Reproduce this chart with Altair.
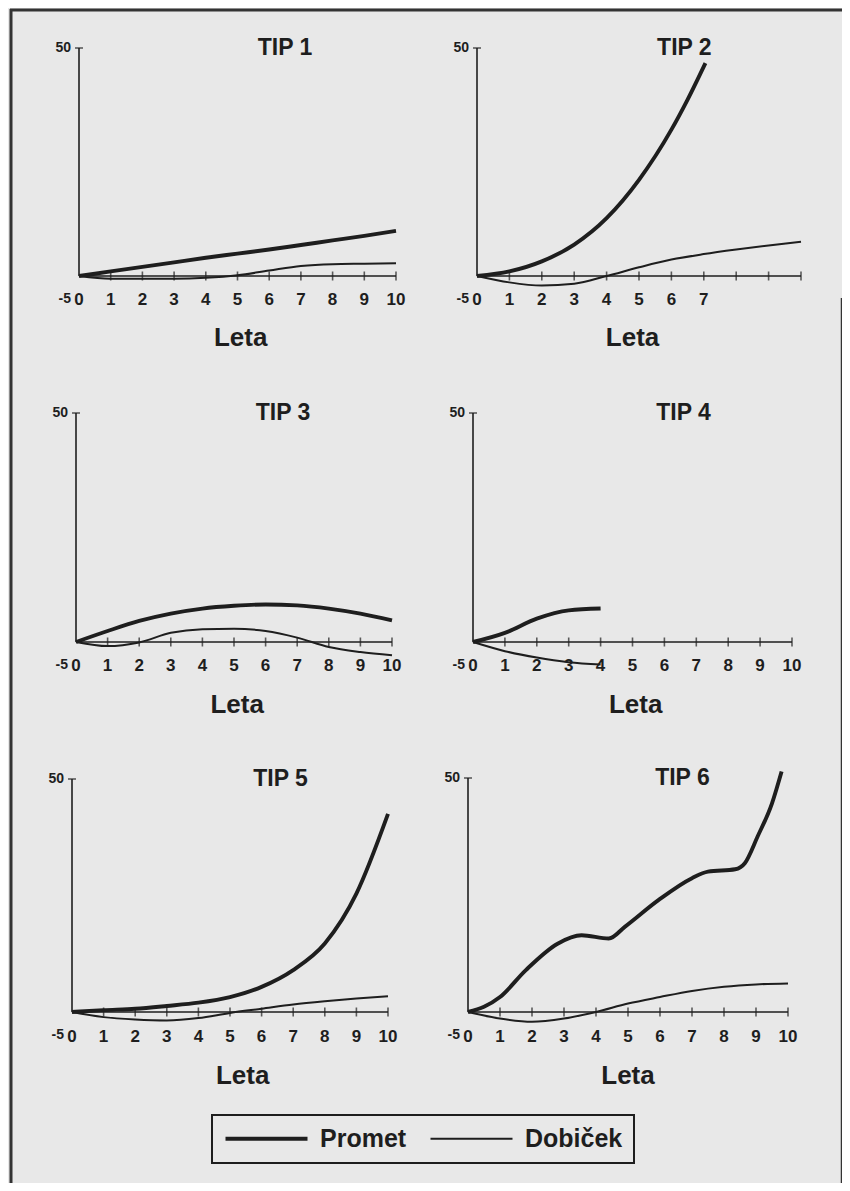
import altair as alt
import pandas as pd

# ---------------- data ----------------
YEARS = [0, 1, 2, 3, 4, 5, 6, 7, 8, 9, 10]
SERIES = ["Promet", "Dobiček"]
TITLES = ["TIP 1", "TIP 2", "TIP 3", "TIP 4", "TIP 5", "TIP 6"]
X_TITLE = "Leta"
Y_LABELS = ["50", "-5"]
Y_LABEL_VALUES = [50, -5]
TICK_YEARS = [1, 2, 3, 4, 5, 6, 7, 8, 9, 10]
XLABELS_FULL = ["0", "1", "2", "3", "4", "5", "6", "7", "8", "9", "10"]
XLABELS_TIP2 = ["0", "1", "2", "3", "4", "5", "6", "7"]

# TIP 1
PROMET_1_X = YEARS
PROMET_1 = [0, 1.0, 2.0, 3.0, 4.0, 4.9, 5.8, 6.8, 7.8, 8.8, 9.9]
DOBICEK_1_X = YEARS
DOBICEK_1 = [0, -0.6, -0.6, -0.6, -0.4, 0.15, 1.2, 2.2, 2.6, 2.7, 2.8]
# TIP 2
PROMET_2_X = [0, 1, 2, 3, 4, 5, 6, 6.5, 7.05]
PROMET_2 = [0, 1.0, 3.2, 6.9, 12.7, 21.1, 32.1, 38.7, 46.7]
DOBICEK_2_X = YEARS
DOBICEK_2 = [0, -1.4, -2.1, -1.7, 0, 1.9, 3.6, 4.8, 5.8, 6.7, 7.5]
# TIP 3
PROMET_3_X = YEARS
PROMET_3 = [0, 2.4, 4.6, 6.2, 7.3, 7.9, 8.2, 8.0, 7.3, 6.2, 4.7]
DOBICEK_3_X = YEARS
DOBICEK_3 = [0, -0.9, -0.1, 2.0, 2.8, 2.9, 2.4, 0.95, -1.1, -2.2, -2.9]
# TIP 4
PROMET_4_X = [0, 1, 2, 3, 4]
PROMET_4 = [0, 2.0, 5.1, 6.9, 7.3]
DOBICEK_4_X = [0, 1, 2, 3, 4]
DOBICEK_4 = [0, -2.0, -3.4, -4.4, -4.9]
# TIP 5
PROMET_5_X = YEARS
PROMET_5 = [0, 0.4, 0.7, 1.3, 2.0, 3.2, 5.4, 9.0, 14.7, 25.4, 42.5]
DOBICEK_5_X = YEARS
DOBICEK_5 = [0, -1.1, -1.6, -1.8, -1.3, -0.2, 0.7, 1.6, 2.3, 2.9, 3.4]
# TIP 6
PROMET_6_X = [0, 0.5, 1, 1.8, 2.8, 3.55, 4.4, 4.9, 5.95, 7, 7.5, 8.35, 8.65, 9.05, 9.5, 9.8]
PROMET_6 = [0, 1.1, 3.2, 8.9, 14.6, 16.4, 15.7, 18.2, 23.9, 28.6, 30.0, 30.5, 31.8, 37.5, 44.6, 51.4]
DOBICEK_6_X = YEARS
DOBICEK_6 = [0, -1.4, -2.1, -1.4, 0, 1.8, 3.2, 4.5, 5.4, 5.9, 6.1]

# ---------------- styling ----------------
FONT = "Liberation Sans"
INK = "#1e1e1e"
BG = "#e8e8e8"
W, H = 834, 1175

LEGEND = alt.Legend(
    title=None, orient="none", legendX=204, legendY=1107, direction="horizontal",
    symbolType="M-2,0H14.4", symbolSize=100, symbolStrokeColor=INK, symbolOffset=0,
    labelFont=FONT, labelFontSize=25, labelFontWeight="bold", labelColor=INK, labelOffset=72,
    columnPadding=19, padding=11, strokeColor=INK,
)


def panel(idx, xr, yr, xlabels, px, dx, pr_x, pr, db_x, db):
    X = alt.X("x:Q", scale=alt.Scale(domain=[0, 10], range=xr), axis=None)
    Y = alt.Y("y:Q", scale=alt.Scale(domain=[0, 50], range=yr), axis=None)

    lines_df = pd.DataFrame(
        {"x": list(pr_x) + list(db_x), "y": list(pr) + list(db),
         "series": [SERIES[0]] * len(pr) + [SERIES[1]] * len(db)}
    )
    lines = alt.Chart(lines_df).mark_line(interpolate="monotone", color=INK).encode(
        x=X, y=Y,
        strokeWidth=alt.StrokeWidth("series:N",
                                    scale=alt.Scale(type="ordinal", domain=SERIES, range=[3.9, 2.0]),
                                    legend=LEGEND),
    )
    yaxis = alt.Chart(pd.DataFrame({"x": [0], "y": [0], "y2": [50]})).mark_rule(
        color=INK, strokeWidth=1.6).encode(x=X, y=Y, y2="y2:Q")
    xaxis = alt.Chart(pd.DataFrame({"x": [0], "x2": [10], "y": [0]})).mark_rule(
        color=INK, strokeWidth=1.6).encode(x=X, x2="x2:Q", y=Y)
    xticks = alt.Chart(pd.DataFrame({"x": TICK_YEARS, "y": [0] * len(TICK_YEARS)})).mark_tick(
        orient="vertical", size=9, thickness=1.6, color=INK).encode(x=X, y=Y)
    ytick = alt.Chart(pd.DataFrame({"x": [0], "y": [50]})).mark_tick(
        orient="horizontal", size=8, thickness=1.6, color=INK).encode(x=X, y=Y)
    xl = alt.Chart(pd.DataFrame({"x": YEARS[:len(xlabels)], "y": [-5.3] * len(xlabels), "t": xlabels})).mark_text(
        font=FONT, fontSize=17, fontWeight="bold", color=INK, baseline="middle").encode(x=X, y=Y, text="t:N")
    yl = alt.Chart(pd.DataFrame({"x": [0, 0], "y": Y_LABEL_VALUES, "t": Y_LABELS})).mark_text(
        font=FONT, fontSize=14, fontWeight="bold", color=INK, baseline="middle", align="right", dx=-8
    ).encode(x=X, y=Y, text="t:N")
    title = alt.Chart(pd.DataFrame({"x": [px], "y": [50], "t": [TITLES[idx]]})).mark_text(
        font=FONT, fontSize=23, fontWeight="bold", color=INK, baseline="middle").encode(x=X, y=Y, text="t:N")
    xt = alt.Chart(pd.DataFrame({"x": [dx], "y": [-13.7], "t": [X_TITLE]})).mark_text(
        font=FONT, fontSize=26, fontWeight="bold", color=INK, baseline="middle").encode(x=X, y=Y, text="t:N")
    return alt.layer(yaxis, xaxis, xticks, ytick, xl, yl, title, xt, lines)


p1 = panel(0, [71, 388], [268, 40], XLABELS_FULL, 6.5, 5.1, PROMET_1_X, PROMET_1, DOBICEK_1_X, DOBICEK_1)
p2 = panel(1, [469, 793], [268, 40], XLABELS_TIP2, 6.4, 4.8, PROMET_2_X, PROMET_2, DOBICEK_2_X, DOBICEK_2)
p3 = panel(2, [68, 384], [634, 405], XLABELS_FULL, 6.55, 5.1, PROMET_3_X, PROMET_3, DOBICEK_3_X, DOBICEK_3)
p4 = panel(3, [465, 784], [634, 405], XLABELS_FULL, 6.6, 5.1, PROMET_4_X, PROMET_4, DOBICEK_4_X, DOBICEK_4)
p5 = panel(4, [64, 380], [1004, 771], XLABELS_FULL, 6.6, 5.4, PROMET_5_X, PROMET_5, DOBICEK_5_X, DOBICEK_5)
p6 = panel(5, [460, 780], [1004, 770], XLABELS_FULL, 6.7, 5.0, PROMET_6_X, PROMET_6, DOBICEK_6_X, DOBICEK_6)

one = pd.DataFrame({"k": [0]})
frame_left = alt.Chart(one).mark_rule(color="#333333", strokeWidth=3).encode(
    x=alt.value(3), y=alt.value(1), y2=alt.value(H))
frame_top = alt.Chart(one).mark_rule(color="#333333", strokeWidth=3).encode(
    x=alt.value(2), x2=alt.value(W), y=alt.value(2))
frame_right = alt.Chart(one).mark_rule(color="#333333", strokeWidth=2.5).encode(
    x=alt.value(834), y=alt.value(290), y2=alt.value(H))

chart = alt.layer(frame_left, frame_top, frame_right, p1, p2, p3, p4, p5, p6).resolve_scale(
    x="independent", y="independent"
).properties(
    width=W, height=H, background=BG, padding=0, autosize=alt.AutoSizeParams(type="none")
).configure_view(stroke=None).configure_legend(strokeWidth=2)

chart.save("out.html", embed_options={"renderer": "svg", "actions": False})
